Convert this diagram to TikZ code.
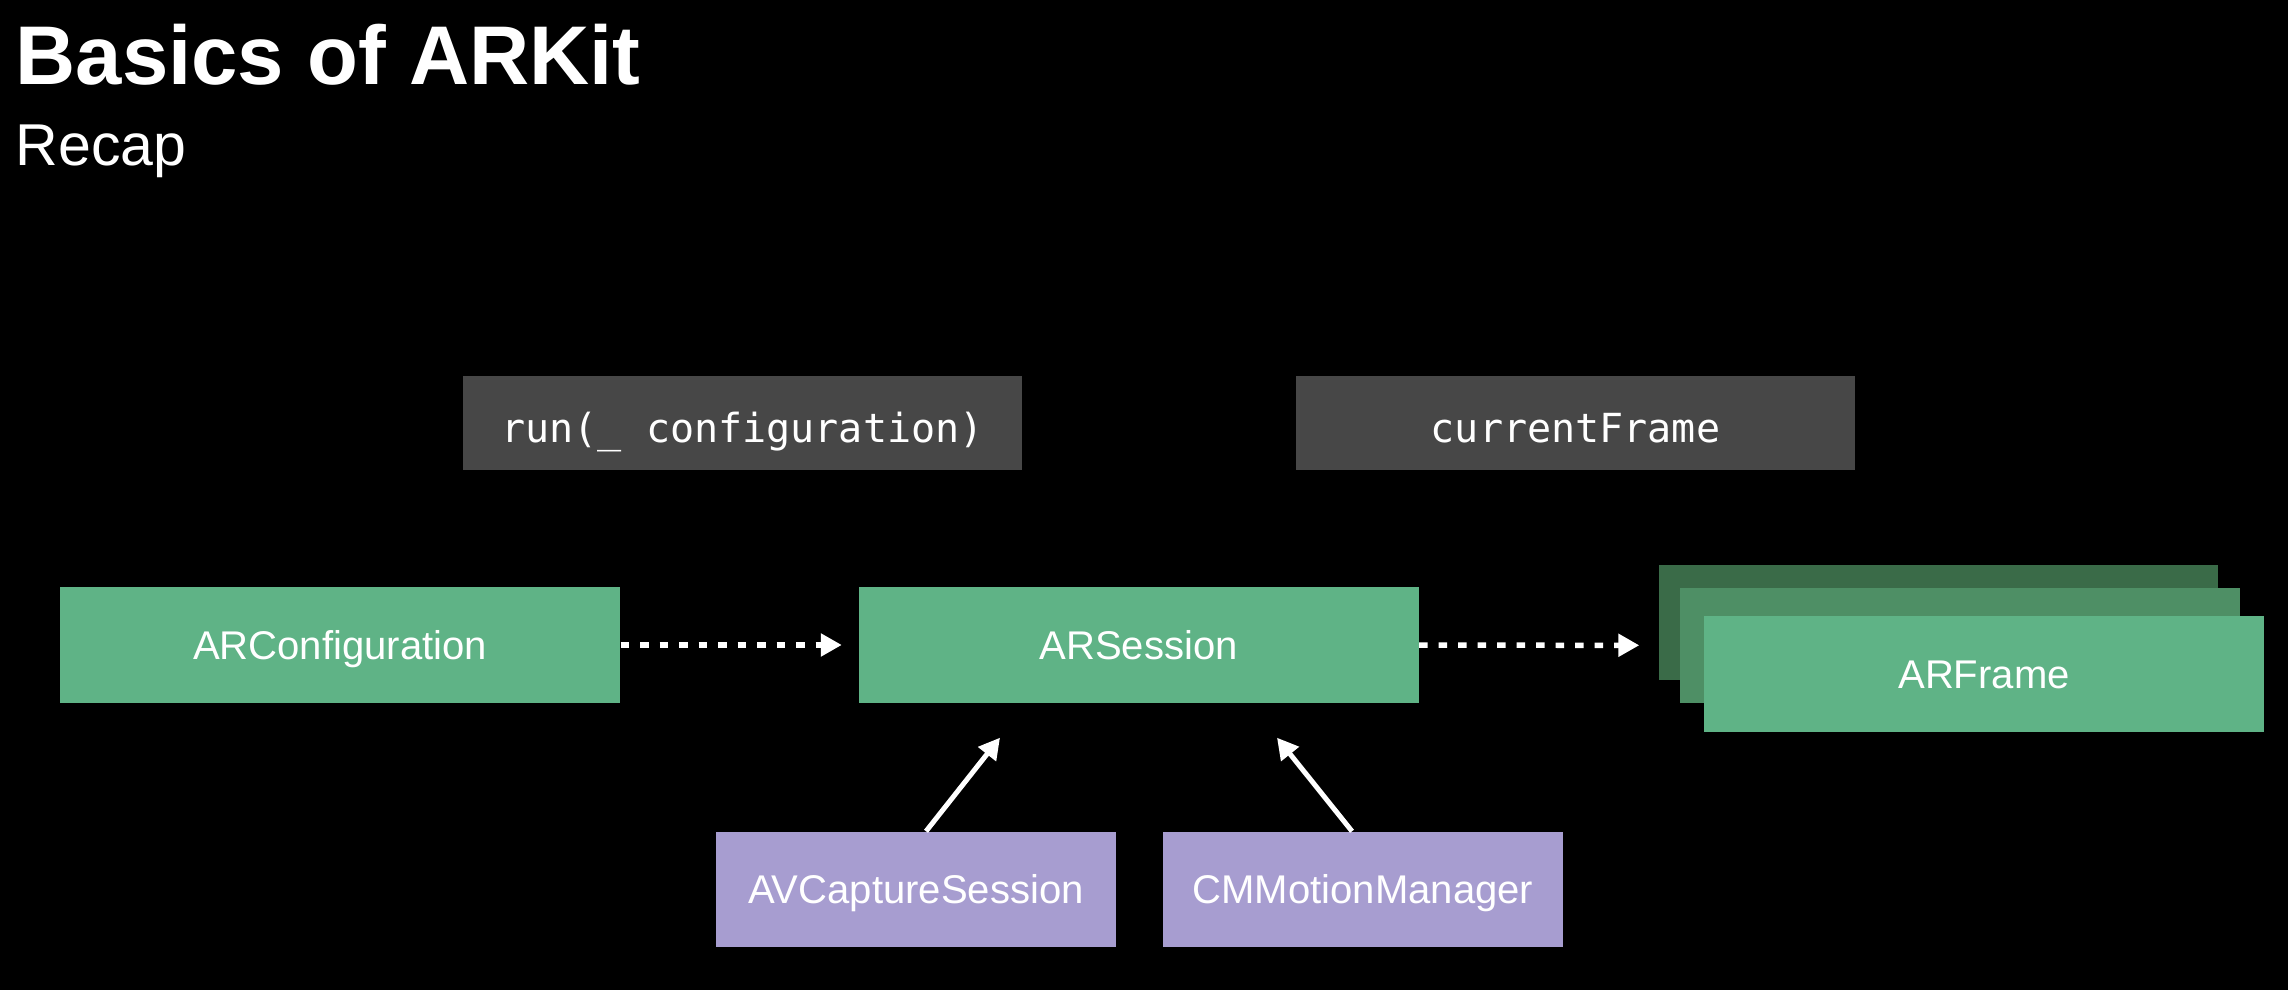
\documentclass[tikz,border=0pt]{standalone}
\usepackage{fontspec}
\setmainfont{Liberation Sans}
\setmonofont{DejaVu Sans Mono}
\usetikzlibrary{arrows.meta}

\definecolor{arverde}{RGB}{95,179,134}
\definecolor{arverdemedio}{RGB}{78,143,101}
\definecolor{arverdescuro}{RGB}{58,107,72}
\definecolor{arviola}{RGB}{167,157,208}
\definecolor{codgrigio}{RGB}{71,71,71}

\begin{document}
\begin{tikzpicture}[>={Triangle[length=0.21cm,width=0.22cm]},
  scatola/.style={rectangle,inner sep=0pt,text=white,minimum width=5.6cm,minimum height=1.16cm,text height=0.29cm,text depth=0cm,font=\fontsize{11.4}{13}\selectfont},
  verde/.style={scatola,fill=arverde},
  viola/.style={scatola,fill=arviola,minimum width=4cm,minimum height=1.15cm},
  codice/.style={scatola,fill=codgrigio,minimum width=5.59cm,minimum height=0.94cm,text height=0.46cm,text depth=0.06cm,font=\ttfamily\fontsize{11.4}{13}\selectfont},
  tratteggio/.style={->,white,line width=0.055cm,dash pattern=on 0.085cm off 0.11cm},
  freccia/.style={->,white,line width=0.05cm}]

% --- Sfondo e titolo ---
\fill[black] (0,0) rectangle (22.88,9.90);
\useasboundingbox (0,0) rectangle (22.88,9.90);
\node[anchor=base west,inner sep=0pt,text=white,font=\bfseries\fontsize{23.7}{28}\selectfont] (titolo) at (0.15,9.05) {Basics of ARKit};
\node[anchor=base west,inner sep=0pt,text=white,font=\fontsize{16.8}{20}\selectfont] (sottotitolo) at (0.15,8.24) {Recap};

% --- Chiamate (codice) ---
\node[codice] (run) at (7.425,5.67) {run(\_ configuration)};
\node[codice] (current) at (15.755,5.67) {currentFrame};

% --- Riga principale ---
\node[verde] (config) at (3.40,3.45) {ARConfiguration};
\node[verde] (session) at (11.385,3.45) {ARSession};

% Pila di ARFrame
\node[scatola,fill=arverdescuro,minimum width=5.59cm,minimum height=1.15cm] (frameC) at (19.385,3.675) {};
\node[scatola,fill=arverdemedio,minimum width=5.6cm,minimum height=1.15cm] (frameB) at (19.60,3.445) {};
\node[verde] (frameA) at (19.84,3.16) {ARFrame};

% --- Sorgenti dei dati ---
\node[viola] (avcap) at (9.16,1.005) {AVCaptureSession};
\node[viola] (motion) at (13.63,1.005) {CMMotionManager};

% Frecce tratteggiate
\draw[tratteggio,shorten >=0.16cm] (config) -- (session);
\draw[tratteggio,shorten >=0.40cm] (session) -- (frameB);

% Frecce verso ARSession
\draw[freccia] ([xshift=0.10cm]avcap.north) -- ([xshift=-1.385cm,yshift=-0.34cm]session.south);
\draw[freccia] ([xshift=-0.11cm]motion.north) -- ([xshift=1.385cm,yshift=-0.34cm]session.south);

\end{tikzpicture}
\end{document}
